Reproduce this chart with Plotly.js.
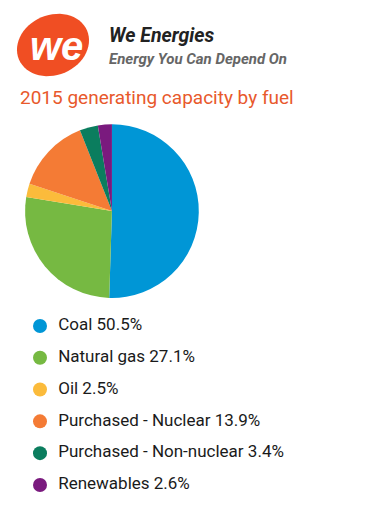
<!DOCTYPE html>
<html><head><meta charset="utf-8">
<script src="https://cdn.plot.ly/plotly-3.0.1.min.js"></script>
<style>html,body{margin:0;padding:0;background:#fff;}#chart{width:384px;height:505px;}</style>
</head><body><div id="chart"></div>
<script>
const categories = ["Coal", "Natural gas", "Oil", "Purchased - Nuclear", "Purchased - Non-nuclear", "Renewables"];
const shares = [50.5, 27.1, 2.5, 13.9, 3.4, 2.6];
const colors = ["#0096d6", "#76b942", "#fbbb3b", "#f47b35", "#0b7d5e", "#7a1a7e"];
const legendLabels = categories.map((c, i) => "  " + c + " " + shares[i].toFixed(1) + "%");
const legendIndex = categories.map((c, i) => i);

const pie = {
  type: "pie", labels: categories, values: shares, sort: false, direction: "clockwise", rotation: 0,
  marker: {colors: colors, line: {width: 0}}, textinfo: "none", hoverinfo: "label+percent",
  domain: {x: [0.065, 0.518], y: [0.410, 0.754]}, showlegend: false
};
const legendTrace = {
  type: "scatter", mode: "markers+text", x: legendIndex.map(() => 0), y: legendIndex,
  text: legendLabels, textposition: "middle right",
  textfont: {family: "Roboto", size: 17, color: "#1a1a1a"},
  marker: {size: 14, color: colors}, showlegend: false, hoverinfo: "skip",
  xaxis: "x", yaxis: "y"
};
const layout = {
  width: 384, height: 505, margin: {l: 0, r: 0, t: 0, b: 0},
  paper_bgcolor: "#fff", plot_bgcolor: "rgba(0,0,0,0)", showlegend: false,
  xaxis: {range: [-40, 344], visible: false, fixedrange: true},
  yaxis: {range: [5.63, -10.25], visible: false, fixedrange: true},
  shapes: [
    {type: "path", xref: "paper", yref: "paper", fillcolor: "#f04e23", line: {width: 0},
     path: (function(){ const cx=53, cy=45, a=37, b=30, th=-0.4; let p=""; for(let k=0;k<=60;k++){const t=2*Math.PI*k/60; const x=cx+a*Math.cos(t)*Math.cos(th)-b*Math.sin(t)*Math.sin(th); const y=cy+a*Math.cos(t)*Math.sin(th)+b*Math.sin(t)*Math.cos(th); p+=(k?"L":"M")+(x/384).toFixed(5)+","+(1-y/505).toFixed(5);} return p+"Z"; })()}
  ],
  annotations: [
    {xref: "paper", yref: "paper", x: 56/384, y: 1-46/505, xanchor: "center", yanchor: "middle", showarrow: false,
     text: "<b><i>we</i></b>", font: {family: "Liberation Sans", size: 40, color: "#fff"}},
    {xref: "paper", yref: "paper", x: 107/384, y: 1-36/505, xanchor: "left", yanchor: "middle", showarrow: false,
     text: "<b><i>We Energies</i></b>", font: {family: "Roboto", size: 19.5, color: "#222"}},
    {xref: "paper", yref: "paper", x: 107/384, y: 1-59/505, xanchor: "left", yanchor: "middle", showarrow: false,
     text: "<b><i>Energy You Can Depend On</i></b>", font: {family: "Roboto", size: 15, color: "#666"}},
    {xref: "paper", yref: "paper", x: 18/384, y: 1-98/505, xanchor: "left", yanchor: "middle", showarrow: false,
     text: "2015 generating capacity by fuel", font: {family: "Roboto", size: 19, color: "#e8592c"}}
  ]
};
Plotly.newPlot("chart", [pie, legendTrace], layout, {displayModeBar: false, staticPlot: true});
</script></body></html>
